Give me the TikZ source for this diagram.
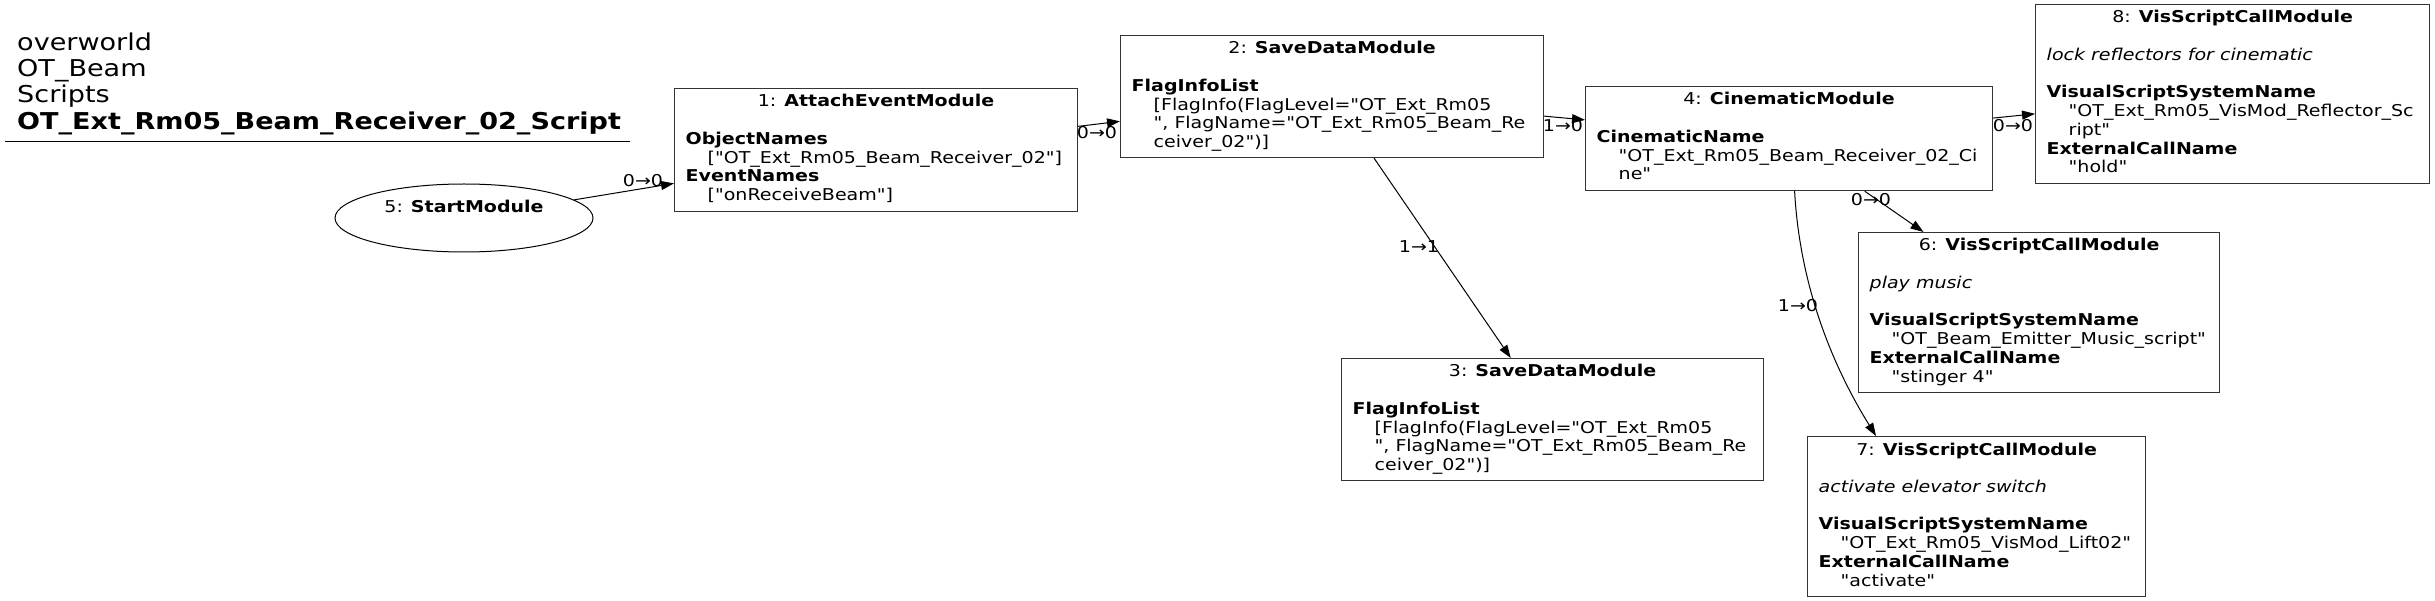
\documentclass[tikz,border=0pt]{standalone}
\usepackage{fontspec}
\setmainfont{DejaVu Sans}[FakeStretch=1.166, Ligatures=TeXOff]
\usetikzlibrary{arrows.meta,shapes.geometric,calc}
\newcommand\nfont{\fontsize{16.3}{18.7}\selectfont}
\newcommand\tfont{\fontsize{23.2}{26.3}\selectfont}
\newcommand\ind{\hspace*{22pt}}
\tikzset{
  box/.style={draw=black!80, line width=1.2pt, rectangle, inner sep=0, anchor=north west},
  ttl/.style={anchor=base, inner sep=0, font=\nfont},
  body/.style={anchor=north west, inner sep=0, align=left, font=\nfont},
  edge/.style={-{Triangle[length=13pt,width=9pt]}, line width=1pt},
  elabel/.style={anchor=base, inner sep=0, font=\nfont},
}
\begin{document}
\begin{tikzpicture}[x=1pt,y=-1pt]
\useasboundingbox (0,0) rectangle (2435,601);
\fill[white] (0,0) rectangle (2435,601);

% header
\node[anchor=north west, inner sep=0, align=left, font=\tfont] (hdr) at (17,31.6)
  {\strut overworld\\ OT\_Beam\\ Scripts\\ \textbf{OT\_Ext\_Rm05\_Beam\_Receiver\_02\_Script}};
\draw[line width=1.2pt] (5,141.5) -- (630,141.5);

% start ellipse
\node[draw, ellipse, minimum width=258pt, minimum height=68pt, inner sep=0, line width=1pt] (n5) at (464,218) {};
\node[ttl] (n5t) at (464,213) {5: \textbf{StartModule}};

% node 1
\node[box, minimum width=403pt, minimum height=123pt] (n1) at (674,88) {};
\node[ttl] (n1t) at ($(n1.north)+(0,19)$) {1: \textbf{AttachEventModule}};
\node[body] (n1b) at ($(n1.north west)+(11.5,43.3)$)
  {\strut\textbf{ObjectNames}\\ \ind["OT\_Ext\_Rm05\_Beam\_Receiver\_02"]\\ \textbf{EventNames}\\ \ind["onReceiveBeam"]};

% node 2
\node[box, minimum width=423pt, minimum height=122pt] (n2) at (1120,35) {};
\node[ttl] (n2t) at ($(n2.north)+(0,19)$) {2: \textbf{SaveDataModule}};
\node[body] (n2b) at ($(n2.north west)+(11.5,43.3)$)
  {\strut\textbf{FlagInfoList}\\ \ind[FlagInfo(FlagLevel="OT\_Ext\_Rm05\\ \ind", FlagName="OT\_Ext\_Rm05\_Beam\_Re\\ \ind ceiver\_02")]};

% node 3
\node[box, minimum width=422pt, minimum height=122pt] (n3) at (1341,358) {};
\node[ttl] (n3t) at ($(n3.north)+(0,19)$) {3: \textbf{SaveDataModule}};
\node[body] (n3b) at ($(n3.north west)+(11.5,43.3)$)
  {\strut\textbf{FlagInfoList}\\ \ind[FlagInfo(FlagLevel="OT\_Ext\_Rm05\\ \ind", FlagName="OT\_Ext\_Rm05\_Beam\_Re\\ \ind ceiver\_02")]};

% node 4
\node[box, minimum width=407pt, minimum height=104pt] (n4) at (1585,86) {};
\node[ttl] (n4t) at ($(n4.north)+(0,19)$) {4: \textbf{CinematicModule}};
\node[body] (n4b) at ($(n4.north west)+(11.5,43.3)$)
  {\strut\textbf{CinematicName}\\ \ind"OT\_Ext\_Rm05\_Beam\_Receiver\_02\_Ci\\ \ind ne"};

% node 6
\node[box, minimum width=361pt, minimum height=160pt] (n6) at (1858,232) {};
\node[ttl] (n6t) at ($(n6.north)+(0,19)$) {6: \textbf{VisScriptCallModule}};
\node[body] (n6b) at ($(n6.north west)+(11.5,43.3)$)
  {\strut\textit{play music}\\ \strut\\ \textbf{VisualScriptSystemName}\\ \ind"OT\_Beam\_Emitter\_Music\_script"\\ \textbf{ExternalCallName}\\ \ind"stinger 4"};

% node 7
\node[box, minimum width=338pt, minimum height=160pt] (n7) at (1807,436) {};
\node[ttl] (n7t) at ($(n7.north)+(0,19)$) {7: \textbf{VisScriptCallModule}};
\node[body] (n7b) at ($(n7.north west)+(11.5,43.3)$)
  {\strut\textit{activate elevator switch}\\ \strut\\ \textbf{VisualScriptSystemName}\\ \ind"OT\_Ext\_Rm05\_VisMod\_Lift02"\\ \textbf{ExternalCallName}\\ \ind"activate"};

% node 8
\node[box, minimum width=394pt, minimum height=179pt] (n8) at (2035,4) {};
\node[ttl] (n8t) at ($(n8.north)+(0,19)$) {8: \textbf{VisScriptCallModule}};
\node[body] (n8b) at ($(n8.north west)+(11.5,43.3)$)
  {\strut\textit{lock reflectors for cinematic}\\ \strut\\ \textbf{VisualScriptSystemName}\\ \ind"OT\_Ext\_Rm05\_VisMod\_Reflector\_Sc\\ \ind ript"\\ \textbf{ExternalCallName}\\ \ind"hold"};

% edges
\draw[edge] (n5) -- (n1);
\draw[edge] (n1) -- (n2);
\draw[edge] (n2) -- (n4);
\draw[edge] (n4) -- (n8);
\draw[edge] (n2) -- (n3);
\draw[edge] (n4) -- (n6);
\draw[edge] ($(n4.south)+(5.5,0)$) .. controls (1800,290) and (1835,370) .. ($(n7.north west)+(69,0)$);

% edge labels
\node[elabel] (l51) at (643,187) {0→0};
\node[elabel] (l12) at (1097,139) {0→0};
\node[elabel] (l24) at (1563,132) {1→0};
\node[elabel] (l48) at (2013,132) {0→0};
\node[elabel] (l23) at (1419,253) {1→1};
\node[elabel] (l46) at (1871,206) {0→0};
\node[elabel] (l47) at (1798,312) {1→0};
\end{tikzpicture}
\end{document}
